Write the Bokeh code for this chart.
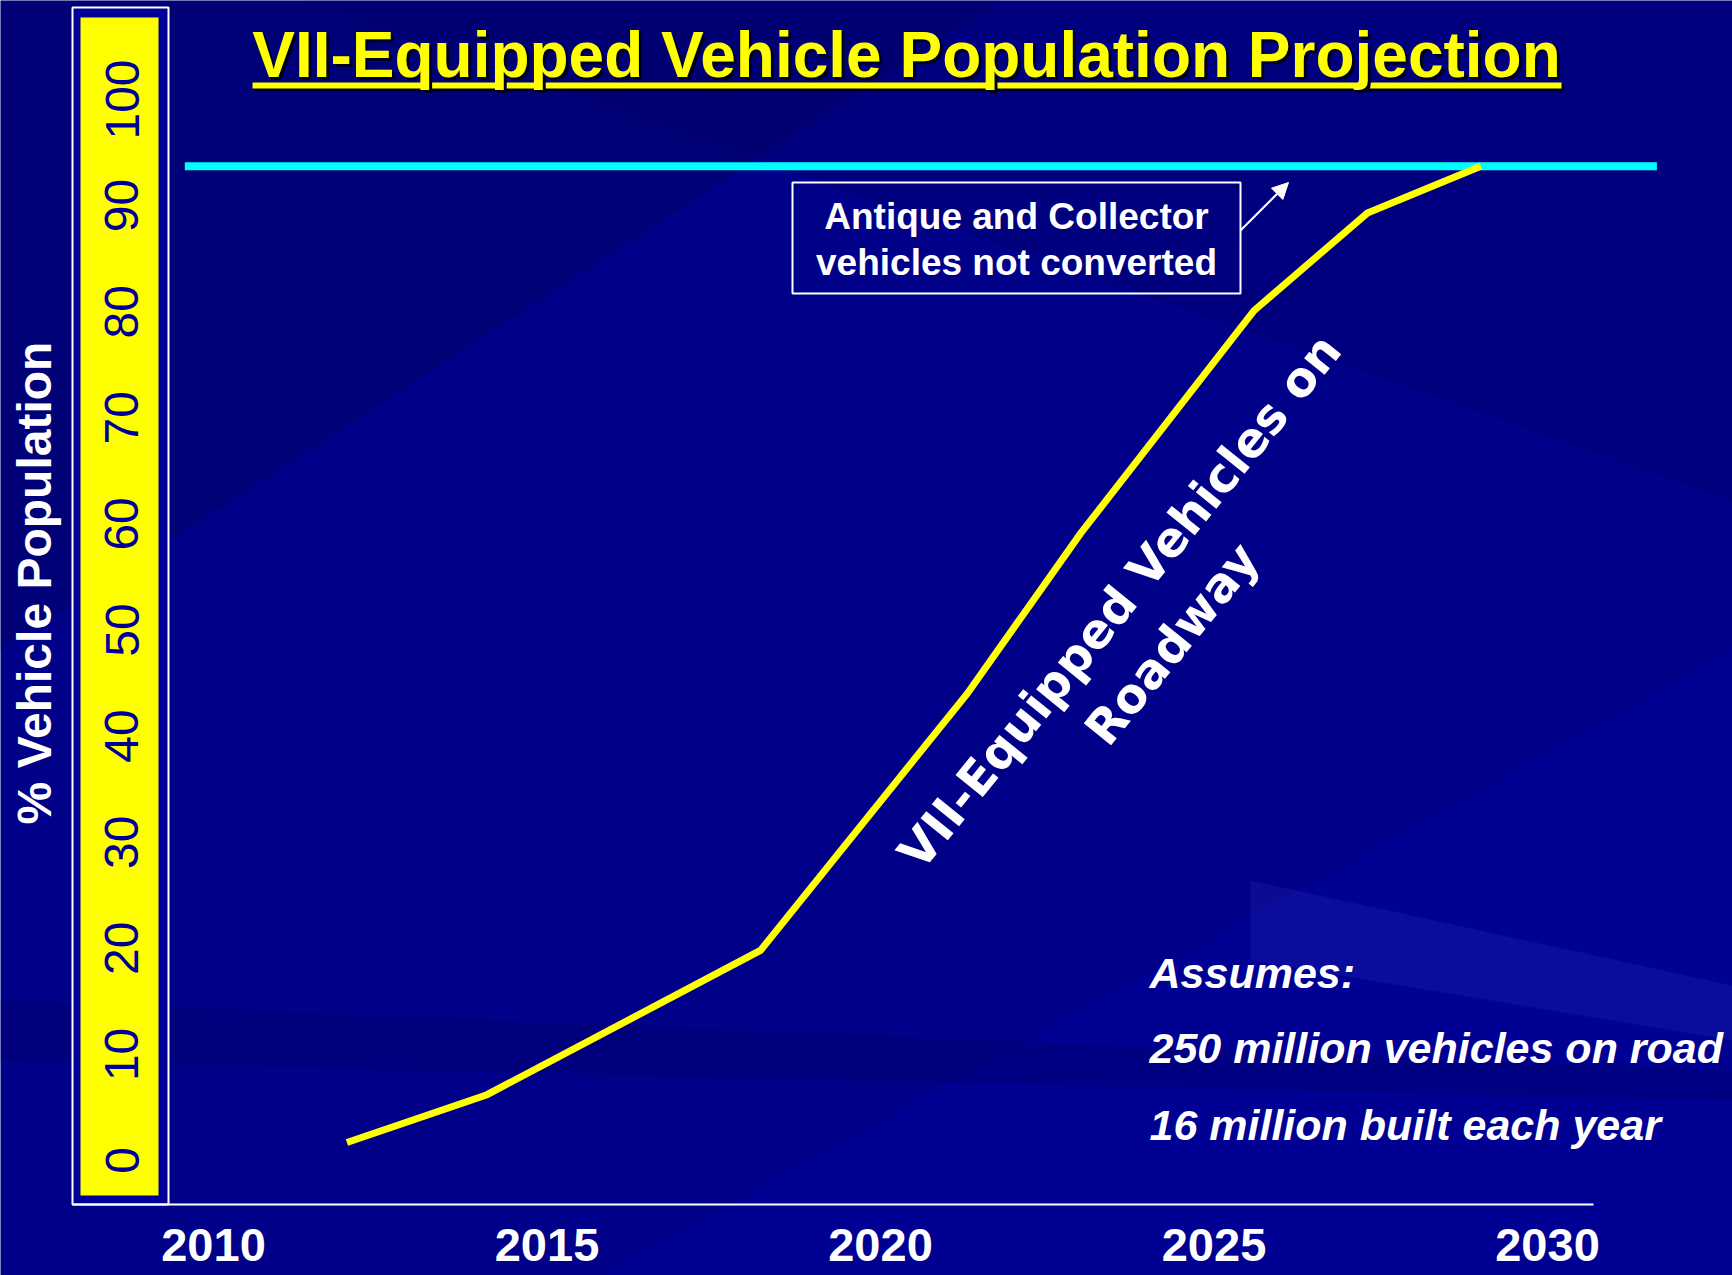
import math
from bokeh.plotting import figure
from bokeh.models import (Range1d, LinearAxis, FixedTicker, Label, Arrow, NormalHead)
from bokeh.embed import file_html
from bokeh.resources import INLINE

# ---------------- data ----------------
years = [2012.0, 2014.1, 2018.2, 2021.3, 2023.0, 2025.6, 2027.3, 2029.0]
pct_equipped = [1.7, 6.2, 19.8, 44.0, 59.1, 80.1, 89.3, 93.7]
ceiling_pct = 93.7
ceiling_years = [2009.57, 2031.64]
x_ticks = [2010, 2015, 2020, 2025, 2030]
y_ticks = [0, 10, 20, 30, 40, 50, 60, 70, 80, 90, 100]
title_text = "VII-Equipped Vehicle Population Projection"
y_title = "% Vehicle Population"
note_lines = ["Antique and Collector", "vehicles not converted"]
series_label = "VII-Equipped Vehicles on\nRoadway"
assume_lines = ["Assumes:", "250 million vehicles on road", "16 million built each year"]

# ---------------- geometry ----------------
W, H = 1732, 1275
PX_YEAR = 66.7
PX_PCT = 10.61
x_start = 2010 - 213 / PX_YEAR
x_end = x_start + W / PX_YEAR
y_start = -(H - 1160) / PX_PCT
y_end = y_start + H / PX_PCT

def fx(px):
    return x_start + px / PX_YEAR

def fy(py):
    return y_start + (H - py) / PX_PCT

BG = "#000088"
p = figure(width=W, height=H, x_range=Range1d(x_start, x_end), y_range=Range1d(y_start, y_end),
           x_axis_type=None, y_axis_type=None, toolbar_location=None, output_backend="svg",
           min_border=0, background_fill_color=BG, border_fill_color=BG, outline_line_color=None)
p.grid.visible = False

# background streaks
p.patch([fx(0), fx(1000), fx(0)], [fy(0), fy(0), fy(650)], color="#000050", alpha=0.3, line_color=None)
p.patch([fx(300), fx(1732), fx(1732)], [fy(0), fy(0), fy(500)], color="#000060", alpha=0.2, line_color=None)
p.patch([fx(1732), fx(1732), fx(600)], [fy(650), fy(1275), fy(1275)], color="#0000b0", alpha=0.25, line_color=None)
p.patch([fx(1250), fx(1732), fx(1732), fx(1250)], [fy(880), fy(985), fy(1040), fy(960)],
        color="#3030c0", alpha=0.22, line_color=None)
p.patch([fx(0), fx(1732), fx(1732), fx(0)], [fy(1000), fy(1070), fy(1100), fy(1060)],
        color="#000060", alpha=0.3, line_color=None)

# left box and yellow band
p.quad(left=[fx(72)], right=[fx(168)], top=[fy(7)], bottom=[fy(1204)],
       fill_color="#000099", line_color="white", line_width=2)
p.quad(left=[fx(80)], right=[fx(158)], top=[fy(17)], bottom=[fy(1195)],
       fill_color="#FFFF00", line_color=None)

# ceiling line
p.line(ceiling_years, [ceiling_pct, ceiling_pct], line_color="#00FFFF", line_width=8)

# data line
p.line(years, pct_equipped, line_color="#FFFF00", line_width=7, line_join="miter")

# axes
xaxis = LinearAxis(fixed_location=fy(1204), bounds=(fx(72), fx(1593)),
                   ticker=FixedTicker(ticks=x_ticks))
xaxis.axis_line_color = "white"
xaxis.axis_line_width = 2
xaxis.major_tick_line_color = None
xaxis.minor_tick_line_color = None
xaxis.major_label_text_color = "white"
xaxis.major_label_text_font = "Liberation Sans"
xaxis.major_label_text_font_style = "bold"
xaxis.major_label_text_font_size = "47px"
xaxis.major_label_standoff = 18
p.add_layout(xaxis, "below")

yaxis = LinearAxis(fixed_location=fx(168), bounds=(fy(1165), fy(0)),
                   ticker=FixedTicker(ticks=y_ticks), axis_label=y_title)
yaxis.axis_line_color = None
yaxis.major_tick_line_color = None
yaxis.minor_tick_line_color = None
yaxis.major_label_orientation = "vertical"
yaxis.major_label_text_color = "#000099"
yaxis.major_label_text_font = "Liberation Sans"
yaxis.major_label_text_font_size = "48px"
yaxis.major_label_standoff = 24
yaxis.axis_label_text_color = "white"
yaxis.axis_label_text_font = "Liberation Sans"
yaxis.axis_label_text_font_style = "bold"
yaxis.axis_label_text_font_size = "48px"
yaxis.axis_label_standoff = 42
p.add_layout(yaxis, "left")

# title with shadow and underline
for dx, col in [(3, "#000022"), (0, "#FFFF00")]:
    p.segment(x0=[fx(252 + dx)], x1=[fx(1561 + dx)], y0=[fy(85 + dx)], y1=[fy(85 + dx)],
              line_color=col, line_width=6)
    p.add_layout(Label(x=fx(906 + dx), y=fy(54 + dx), text=title_text, text_align="center",
                       text_baseline="middle", text_color=col, text_font="Liberation Sans",
                       text_font_style="bold", text_font_size="64px"))

# annotation box
p.quad(left=[fx(792)], right=[fx(1240)], top=[fy(182)], bottom=[fy(293)],
       fill_color=None, line_color="white", line_width=2)
for line_txt, cy in zip(note_lines, [216, 262]):
    p.add_layout(Label(x=fx(1016), y=fy(cy), text=line_txt, text_align="center",
                       text_baseline="middle", text_color="white", text_font="Liberation Sans",
                       text_font_style="bold", text_font_size="37px"))
p.add_layout(Arrow(x_start=fx(1240), y_start=fy(230), x_end=fx(1288), y_end=fy(182),
                   line_color="white", line_width=2,
                   end=NormalHead(size=16, fill_color="white", line_color="white")))

# rotated series label
p.add_layout(Label(x=fx(1145), y=fy(622), text=series_label, angle=0.89, text_align="center",
                   text_baseline="middle", text_color="white", text_font="DejaVu Sans",
                   text_font_style="bold", text_font_size="48px"))

# assumptions
for line_txt, cy in zip(assume_lines, [972, 1047, 1124]):
    p.add_layout(Label(x=fx(1149), y=fy(cy), text=line_txt, text_align="left",
                       text_baseline="middle", text_color="white", text_font="Liberation Sans",
                       text_font_style="bold italic", text_font_size="43px"))

open("out.html", "w").write(file_html(p, INLINE))
